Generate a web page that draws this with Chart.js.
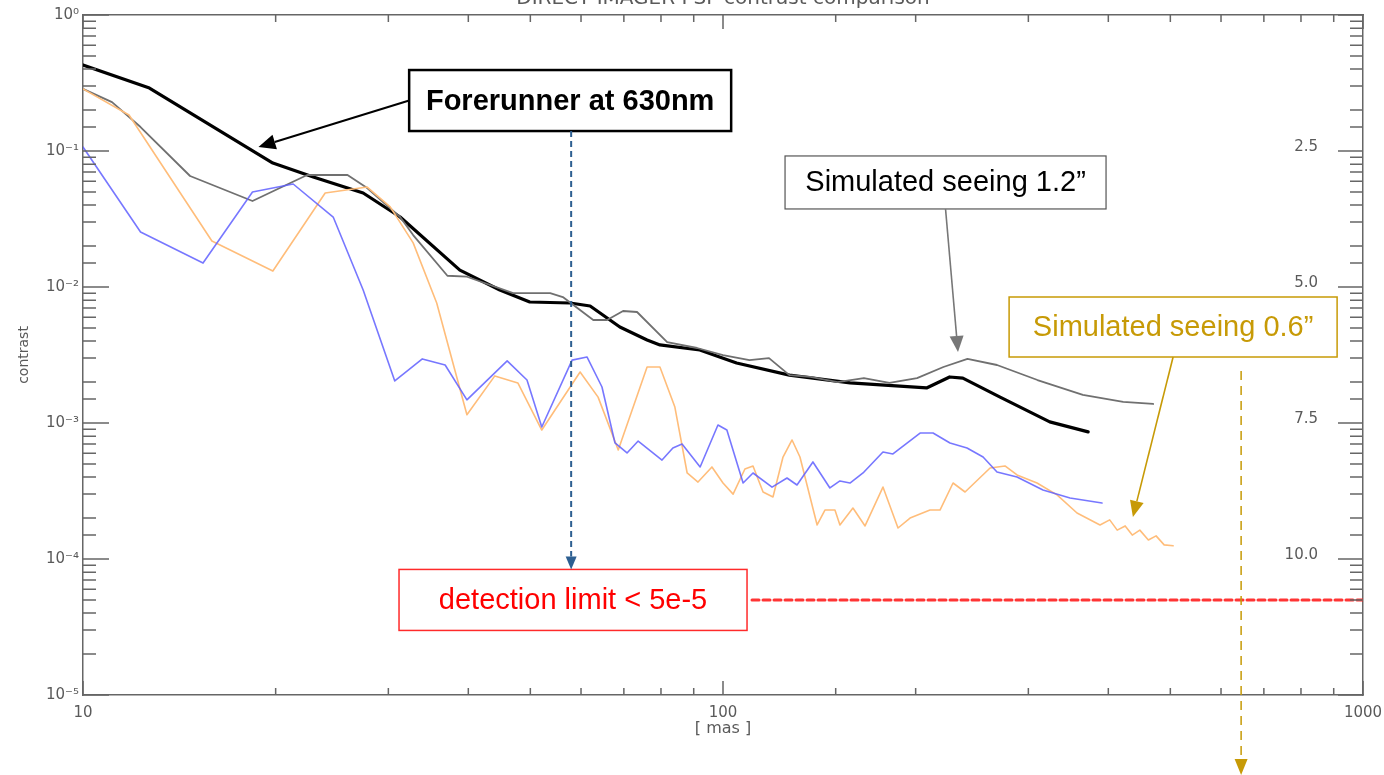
<!DOCTYPE html>
<html>
<head>
<meta charset="utf-8">
<title>DIRECT IMAGER PSF contrast comparison</title>
<script src="https://cdn.jsdelivr.net/npm/chart.js@4.4.1/dist/chart.umd.min.js"></script>
<style>
  html, body { margin: 0; padding: 0; background: #fff; }
  canvas { display: block; }
</style>
</head>
<body>
<canvas id="contrastChart" width="1384" height="775"></canvas>
<script>
// Separation [mas] and contrast for each curve
const forerunnerSep = [10, 12.7, 19.8, 22.9, 27.4, 31.3, 38.8, 44.8, 49.9, 57.7, 62.0, 69.0, 76.1, 79.7, 92.0, 105, 127, 158, 208, 226, 237, 271, 324, 372];
const forerunnerContrast = [0.429, 0.290, 0.0816, 0.0644, 0.0491, 0.0327, 0.0133, 0.0095, 0.00776, 0.00763, 0.00725, 0.00508, 0.00408, 0.00375, 0.00344, 0.00276, 0.00225, 0.00197, 0.00181, 0.00218, 0.00214, 0.00155, 0.00102, 0.00086];

const seeing12Sep = [10, 11.1, 12.3, 14.7, 18.4, 22.4, 25.9, 27.8, 31.3, 32.8, 37.1, 39.8, 47.0, 53.7, 56.2, 62.7, 65.9, 69.8, 73.4, 81.8, 91.1, 100, 110, 118, 127, 137, 151, 166, 182, 201, 221, 241, 268, 310, 365, 422, 470];
const seeing12Contrast = [0.286, 0.229, 0.150, 0.0655, 0.0429, 0.0666, 0.0666, 0.0534, 0.0327, 0.0241, 0.0121, 0.0119, 0.00903, 0.00903, 0.00844, 0.00572, 0.00572, 0.00666, 0.00655, 0.00394, 0.00356, 0.00316, 0.00290, 0.00300, 0.00225, 0.00218, 0.00200, 0.00214, 0.00197, 0.00214, 0.00258, 0.00296, 0.00267, 0.00207, 0.00161, 0.00143, 0.00138];

const blueSep = [10, 12.3, 15.4, 18.4, 21.3, 24.6, 27.4, 30.7, 33.9, 36.8, 39.8, 46.0, 49.4, 52.1, 58.1, 61.3, 64.7, 67.8, 70.8, 73.7, 80.3, 83.5, 86.3, 92.1, 98.2, 101.4, 107.5, 111.4, 119.3, 125.9, 130.5, 138.2, 146.9, 152.3, 157.9, 165.5, 177.8, 184.3, 203.2, 212.9, 226.3, 240.6, 254.9, 268.0, 288.0, 316.2, 348.5, 391.0];
const blueContrast = [0.107, 0.0254, 0.0150, 0.0500, 0.0572, 0.0327, 0.0095, 0.00204, 0.00296, 0.00267, 0.00148, 0.00286, 0.00207, 0.000935, 0.00290, 0.00306, 0.00184, 0.000713, 0.000602, 0.000737, 0.000534, 0.000655, 0.000701, 0.000475, 0.000967, 0.000888, 0.000362, 0.000429, 0.000338, 0.000394, 0.000350, 0.000517, 0.000333, 0.000375, 0.000362, 0.000429, 0.000612, 0.000592, 0.000844, 0.000844, 0.000713, 0.000655, 0.000562, 0.000436, 0.000401, 0.000322, 0.000281, 0.000258];

const seeing06Sep = [10, 11.8, 15.9, 19.8, 23.9, 27.8, 30.2, 32.8, 35.7, 39.8, 44.0, 47.8, 52.1, 59.8, 63.8, 68.6, 76.1, 79.7, 84.1, 87.9, 91.4, 96.1, 100, 103.7, 108.2, 111.4, 115.5, 119.7, 124.1, 128.2, 131.9, 140.3, 144.3, 149.6, 152.3, 159.6, 166.7, 177.8, 187.7, 196.0, 210.6, 218.3, 228.8, 238.9, 261.4, 275.8, 288.0, 309.5, 332.6, 357.4, 388.2, 402, 413, 425, 436, 448, 462, 475, 489, 505];
const seeing06Contrast = [0.286, 0.184, 0.0218, 0.0131, 0.0491, 0.0543, 0.0388, 0.0211, 0.00763, 0.00115, 0.00222, 0.00197, 0.000888, 0.00237, 0.00155, 0.000633, 0.00258, 0.00258, 0.00131, 0.000429, 0.000368, 0.000475, 0.000362, 0.000300, 0.000459, 0.000483, 0.000311, 0.000286, 0.000562, 0.000750, 0.000562, 0.000178, 0.000229, 0.000229, 0.000178, 0.000237, 0.000175, 0.000338, 0.000169, 0.000200, 0.000229, 0.000229, 0.000362, 0.000311, 0.000467, 0.000483, 0.000415, 0.000362, 0.000296, 0.000218, 0.000178, 0.000194, 0.000163, 0.000175, 0.000150, 0.000163, 0.000138, 0.000148, 0.000127, 0.000125];

// detection limit line
const limitSep = [111, 1000];
const limitContrast = [5e-5, 5e-5];

// right-hand magnitude labels at each contrast decade
const magDecades = [1e-1, 1e-2, 1e-3, 1e-4];
const magLabels = ["2.5", "5.0", "7.5", "10.0"];

const axisGray = "#666";
const labelGray = "#5a5a5a";
const gold = "#c79a06";
const tickFont = "'DejaVu Sans', sans-serif";
const boxFont = "'Liberation Sans', Arial, sans-serif";

const pairs = (xs, ys) => xs.map((x, i) => ({ x, y: ys[i] }));
const isDecade = (v) => { const l = Math.log10(v); return Math.abs(l - Math.round(l)) < 1e-6; };
const sup = { "0": "⁰", "1": "¹", "2": "²", "3": "³", "4": "⁴", "5": "⁵", "-": "⁻" };
const powLabel = (v) => "10" + String(Math.round(Math.log10(v))).split("").map((c) => sup[c]).join("");

// callout boxes, anchored in data space (sep, contrast) with pixel size
const callouts = {
  forerunner: { text: "Forerunner at 630nm", sep: 57.7, c: 0.235, w: 322, h: 61, font: "bold 29px " + boxFont, color: "#000", border: "#000", lw: 2.5 },
  seeing12: { text: "Simulated seeing 1.2\u201D", sep: 222.7, c: 0.0587, w: 321, h: 53, font: "29px " + boxFont, color: "#000", border: "#555", lw: 1.2 },
  seeing06: { text: "Simulated seeing 0.6\u201D", sep: 505, c: 0.00508, w: 328, h: 60, font: "29px " + boxFont, color: gold, border: gold, lw: 1.5 },
  limit: { text: "detection limit < 5e-5", sep: 58.3, c: 5e-5, w: 348, h: 61, font: "29px " + boxFont, color: "#ff0000", border: "#ff2a2a", lw: 1.5 },
};

function drawArrow(ctx, x0, y0, x1, y1, o) {
  const ang = Math.atan2(y1 - y0, x1 - x0);
  const bx = x1 - Math.cos(ang) * o.head, by = y1 - Math.sin(ang) * o.head;
  ctx.save();
  ctx.strokeStyle = o.color; ctx.fillStyle = o.color; ctx.lineWidth = o.width;
  ctx.setLineDash(o.dash || []);
  ctx.beginPath(); ctx.moveTo(x0, y0); ctx.lineTo(bx, by); ctx.stroke();
  ctx.setLineDash([]);
  const hw = o.headWidth / 2;
  ctx.beginPath();
  ctx.moveTo(x1, y1);
  ctx.lineTo(bx + Math.sin(ang) * hw, by - Math.cos(ang) * hw);
  ctx.lineTo(bx - Math.sin(ang) * hw, by + Math.cos(ang) * hw);
  ctx.closePath(); ctx.fill();
  ctx.restore();
}

function boxRect(chart, b) {
  const cx = chart.scales.x.getPixelForValue(b.sep), cy = chart.scales.y.getPixelForValue(b.c);
  return { cx, cy, l: cx - b.w / 2, r: cx + b.w / 2, t: cy - b.h / 2, b: cy + b.h / 2 };
}

function drawBox(ctx, chart, b) {
  const r = boxRect(chart, b);
  ctx.save();
  ctx.fillStyle = "#fff"; ctx.fillRect(r.l, r.t, b.w, b.h);
  ctx.strokeStyle = b.border; ctx.lineWidth = b.lw; ctx.strokeRect(r.l, r.t, b.w, b.h);
  ctx.fillStyle = b.color; ctx.font = b.font; ctx.textAlign = "center"; ctx.textBaseline = "middle";
  ctx.fillText(b.text, r.cx, r.cy + 1);
  ctx.restore();
  return r;
}

// IDL-style inward ticks on all four sides, magnitude labels and the callouts
const frameAndCallouts = {
  id: "frameAndCallouts",
  afterDatasetsDraw(chart) {
    const { ctx, chartArea: a, scales } = chart;
    const xs = scales.x, ys = scales.y;
    ctx.save();
    ctx.strokeStyle = axisGray; ctx.lineWidth = 1.5;
    ctx.beginPath();
    xs.ticks.forEach((t) => {
      const p = xs.getPixelForValue(t.value);
      const len = isDecade(t.value) ? 14 : 7;
      ctx.moveTo(p, a.bottom); ctx.lineTo(p, a.bottom - len);
      ctx.moveTo(p, a.top); ctx.lineTo(p, a.top + len);
    });
    ys.ticks.forEach((t) => {
      const p = ys.getPixelForValue(t.value);
      const big = isDecade(t.value);
      ctx.moveTo(a.left, p); ctx.lineTo(a.left + (big ? 26 : 13), p);
      ctx.moveTo(a.right, p); ctx.lineTo(a.right - (big ? 25 : 13), p);
    });
    ctx.stroke();

    ctx.fillStyle = labelGray;
    ctx.font = "15px " + tickFont;
    ctx.textAlign = "right";
    ctx.textBaseline = "middle";
    magDecades.forEach((d, i) => ctx.fillText(magLabels[i], a.right - 45, ys.getPixelForValue(d) - 4));
    ctx.restore();

    const fr = drawBox(ctx, chart, callouts.forerunner);
    const s12 = drawBox(ctx, chart, callouts.seeing12);
    const s06 = drawBox(ctx, chart, callouts.seeing06);
    const lim = drawBox(ctx, chart, callouts.limit);

    drawArrow(ctx, fr.l, fr.cy, xs.getPixelForValue(18.8), ys.getPixelForValue(0.107),
      { color: "#000", width: 2, head: 17, headWidth: 15 });
    drawArrow(ctx, fr.cx + 1, fr.b, fr.cx + 1, lim.t,
      { color: "#2d5f91", width: 2, head: 13, headWidth: 11, dash: [6, 4] });
    drawArrow(ctx, s12.cx, s12.b, xs.getPixelForValue(232.9), ys.getPixelForValue(0.00333),
      { color: "#777", width: 1.6, head: 16, headWidth: 14 });
    drawArrow(ctx, s06.cx, s06.b, xs.getPixelForValue(437), ys.getPixelForValue(2.04e-4),
      { color: gold, width: 1.6, head: 16, headWidth: 14 });
    const gx = xs.getPixelForValue(645);
    drawArrow(ctx, gx, s06.b + 14, gx, chart.height,
      { color: gold, width: 1.5, head: 16, headWidth: 13, dash: [9, 6] });
  },
};

Chart.defaults.font.family = tickFont;
Chart.defaults.color = labelGray;

const ctx = document.getElementById("contrastChart").getContext("2d");
new Chart(ctx, {
  type: "line",
  data: {
    datasets: [
      { label: "detection limit", data: pairs(limitSep, limitContrast), borderColor: "rgba(255,30,30,0.9)", borderWidth: 3, borderDash: [7, 4] },
      { label: "blue", data: pairs(blueSep, blueContrast), borderColor: "rgba(95,95,255,0.85)", borderWidth: 1.6 },
      { label: "Simulated seeing 0.6\u201D", data: pairs(seeing06Sep, seeing06Contrast), borderColor: "#ffbd7a", borderWidth: 1.6 },
      { label: "Simulated seeing 1.2\u201D", data: pairs(seeing12Sep, seeing12Contrast), borderColor: "#707070", borderWidth: 1.8 },
      { label: "Forerunner at 630nm", data: pairs(forerunnerSep, forerunnerContrast), borderColor: "#000", borderWidth: 3.2 },
    ],
  },
  options: {
    responsive: false,
    animation: false,
    devicePixelRatio: 1,
    layout: { padding: 0 },
    plugins: { legend: { display: false }, tooltip: { enabled: false } },
    elements: { point: { radius: 0 }, line: { tension: 0, borderJoinStyle: "round", borderCapStyle: "round" } },
    scales: {
      x: {
        type: "logarithmic", position: "bottom", min: 10, max: 1000,
        grid: { display: false, drawTicks: false },
        border: { color: axisGray, width: 1.5 },
        ticks: { autoSkip: false, maxRotation: 0, padding: 9, font: { size: 15 }, callback: (v) => (isDecade(v) ? String(Math.round(v)) : "") },
        title: { display: true, text: "[ mas ]", font: { size: 16 }, padding: { top: 0, bottom: 37 } },
        afterFit(s) { s.height = 80; s.paddingLeft = 0; s.paddingRight = 0; },
      },
      x2: {
        type: "logarithmic", position: "top", min: 10, max: 1000, display: true,
        grid: { display: false, drawTicks: false },
        border: { color: axisGray, width: 1.5 },
        ticks: { display: false },
        title: { display: true, text: "DIRECT IMAGER PSF contrast comparison", font: { size: 20 }, padding: { top: -13, bottom: 0 } },
        afterFit(s) { s.height = 15; s.paddingLeft = 0; s.paddingRight = 0; },
      },
      y: {
        type: "logarithmic", position: "left", min: 1e-5, max: 1,
        grid: { display: false, drawTicks: false },
        border: { color: axisGray, width: 1.5 },
        ticks: { autoSkip: false, padding: 4, font: { size: 15 }, callback: (v) => (isDecade(v) ? powLabel(v) : "") },
        title: { display: true, text: "contrast", font: { size: 14 }, padding: { top: 16, bottom: 0 } },
        afterFit(s) { s.width = 83; s.paddingTop = 0; s.paddingBottom = 0; },
      },
      y2: {
        type: "logarithmic", position: "right", min: 1e-5, max: 1, display: true,
        grid: { display: false, drawTicks: false },
        border: { color: axisGray, width: 1.5 },
        ticks: { display: false },
        afterFit(s) { s.width = 21; s.paddingTop = 0; s.paddingBottom = 0; },
      },
    },
  },
  plugins: [frameAndCallouts],
});
</script>
</body>
</html>
